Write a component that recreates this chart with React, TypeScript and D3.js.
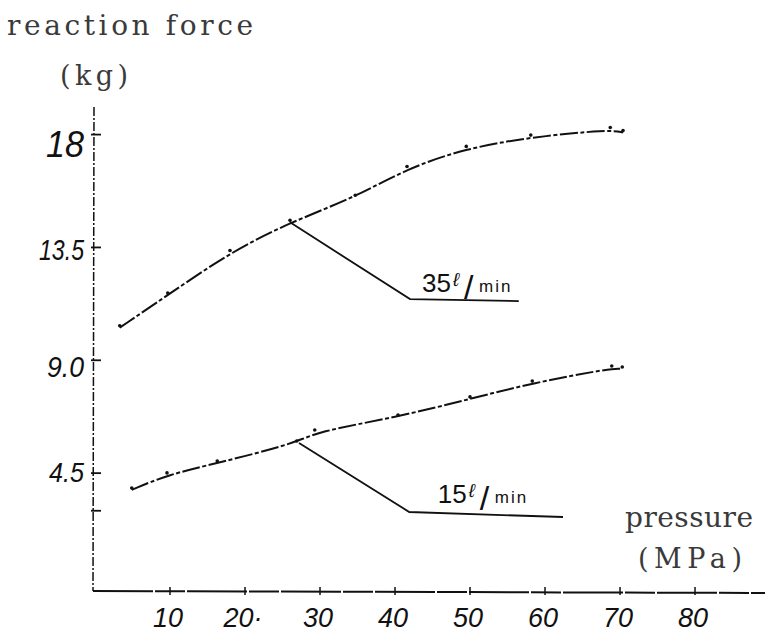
import React from "react";
import * as d3 from "d3";

// ---- data ----
const X_TICKS = [10, 20, 30, 40, 50, 60, 70, 80];
const X_TICK_LABELS = ["10", "20·", "30", "40", "50", "60", "70", "80"];
const Y_TICKS = [18, 13.5, 9, 4.5, 3];
const Y_TICK_LABELS = ["18", "13.5", "9.0", "4.5", ""];

const PRESSURE_35 = [3.3, 9.7, 18, 26, 34.7, 41.6, 49.5, 58.1, 68.7, 70.4];
const FORCE_35 = [10.3, 11.6, 13.3, 14.5, 15.5, 16.65, 17.45, 17.9, 18.2, 18.08];

const PRESSURE_15 = [4.9, 9.6, 16.3, 26.9, 29.3, 40.4, 50, 58.3, 68.9, 70.3];
const FORCE_15 = [3.83, 4.43, 4.9, 5.7, 6.14, 6.74, 7.46, 8.09, 8.69, 8.65];

const LEADER_35_X = [26, 42, 56.5];
const LEADER_35_Y = [14.5, 11.44, 11.36];
const LEADER_15_X = [27.2, 41.9, 62.4];
const LEADER_15_Y = [5.7, 2.95, 2.75];

const LABEL_35 = { flow: "35", unit: "ℓ", per: "/", time: "min", x: 43.6, y: 11.72 };
const LABEL_15 = { flow: "15", unit: "ℓ", per: "/", time: "min", x: 45.7, y: 3.31 };

const W = 765;
const H = 636;

export default function App() {
  const x = d3.scaleLinear().domain([0, 89.33]).range([95, 765]);
  const y = d3.scaleLinear().domain([-0.2, 19.1]).range([591, 107]);

  const curve = d3
    .line<[number, number]>()
    .x((d) => x(d[0]))
    .y((d) => y(d[1]))
    .curve(d3.curveBasis);
  const straight = d3
    .line<[number, number]>()
    .x((d) => x(d[0]))
    .y((d) => y(d[1]));

  const s35 = PRESSURE_35.map((p, i) => [p, FORCE_35[i]] as [number, number]);
  const s15 = PRESSURE_15.map((p, i) => [p, FORCE_15[i]] as [number, number]);
  const l35 = LEADER_35_X.map((p, i) => [p, LEADER_35_Y[i]] as [number, number]);
  const l15 = LEADER_15_X.map((p, i) => [p, LEADER_15_Y[i]] as [number, number]);

  const ink = "#111";
  const typeInk = "#3a3a3a";
  const hand = "'Liberation Sans', 'DejaVu Sans', sans-serif";
  const type = "'DejaVu Serif', 'Liberation Serif', serif";

  // visual sizing of the handwritten y labels (style only)
  const yLabelWidth: Record<string, number> = { "18": 38, "13.5": 45, "9.0": 37, "4.5": 35 };
  const yLabelSize: Record<string, number> = { "18": 36, "13.5": 30, "9.0": 30, "4.5": 27 };
  const yLabelDy: Record<string, number> = { "18": 22, "13.5": 13, "9.0": 17, "4.5": 9 };

  const renderLabel = (lab: typeof LABEL_35, key: string) => {
    const x0 = x(lab.x);
    const y0 = y(lab.y);
    return (
      <g key={key} fill={ink} fontFamily={hand}>
        <text x={x0} y={y0} fontSize={26}>
          {lab.flow}
        </text>
        <text x={x0 + 31} y={y0 - 6} fontSize={19} fontStyle="italic">
          {lab.unit}
        </text>
        <text x={x0 + 42} y={y0 + 7} fontSize={34} fontWeight={300}>
          {lab.per}
        </text>
        <text x={x0 + 57} y={y0} fontSize={17} letterSpacing={2}>
          {lab.time}
        </text>
      </g>
    );
  };

  return (
    <svg
      width={W}
      height={H}
      style={{ position: "fixed", left: 0, top: 0, background: "#fff" }}
    >
      {/* axis titles */}
      <text x={7} y={35} fontFamily={type} fontSize={28} fill={typeInk} textLength={246} lengthAdjust="spacing">
        reaction force
      </text>
      <text x={60} y={85} fontFamily={type} fontSize={27} fill={typeInk} textLength={68} lengthAdjust="spacing">
        (kg)
      </text>
      <text x={625} y={527} fontFamily={type} fontSize={28} fill={typeInk} textLength={128} lengthAdjust="spacing">
        pressure
      </text>
      <text x={638} y={568} fontFamily={type} fontSize={27} fill={typeInk} textLength={104} lengthAdjust="spacing">
        (MPa)
      </text>

      {/* y axis */}
      <line
        x1={x(0) - 1}
        x2={x(0) - 2}
        y1={y(19.1)}
        y2={y(-0.2)}
        stroke={ink}
        strokeWidth={1.5}
        strokeDasharray="9 2 2 2"
      />
      {Y_TICKS.map((t, i) => {
        const lab = Y_TICK_LABELS[i];
        return (
          <g key={"yt" + i}>
            <line x1={x(0) - 4} x2={x(0) + 6} y1={y(t)} y2={y(t)} stroke={ink} strokeWidth={1.8} />
            {lab && (
              <text
                x={84 - yLabelWidth[lab]}
                y={y(t) + yLabelDy[lab]}
                fontFamily={hand}
                fontStyle="italic"
                fontSize={yLabelSize[lab]}
                textLength={yLabelWidth[lab]}
                lengthAdjust="spacingAndGlyphs"
                fill={ink}
              >
                {lab}
              </text>
            )}
          </g>
        );
      })}

      {/* x axis */}
      <line
        x1={x(0) - 2}
        x2={x(89.33)}
        y1={y(-0.2)}
        y2={y(-0.2) + 2}
        stroke={ink}
        strokeWidth={2}
        strokeDasharray="60 2 30 2"
      />
      {X_TICKS.map((t, i) => (
        <g key={"xt" + i}>
          <line x1={x(t)} x2={x(t)} y1={y(-0.2) - 4} y2={y(-0.2) + 4} stroke={ink} strokeWidth={1.5} />
          <text
            x={x(t) - 2}
            y={y(-0.2) + 36}
            textAnchor="middle"
            fontFamily={hand}
            fontStyle="italic"
            fontSize={27}
            fill={ink}
          >
            {X_TICK_LABELS[i]}
          </text>
        </g>
      ))}

      {/* curves */}
      <path d={curve(s35) || ""} fill="none" stroke={ink} strokeWidth={2} strokeDasharray="18 2.5 4 2.5" />
      <path d={curve(s15) || ""} fill="none" stroke={ink} strokeWidth={2} strokeDasharray="18 2.5 4 2.5" />
      {s35.concat(s15).map((d, i) => (
        <circle key={"pt" + i} cx={x(d[0])} cy={y(d[1]) - 2} r={1.8} fill={ink} />
      ))}

      {/* leaders */}
      <path d={straight(l35) || ""} fill="none" stroke={ink} strokeWidth={1.8} />
      <path d={straight(l15) || ""} fill="none" stroke={ink} strokeWidth={1.8} />
      {renderLabel(LABEL_35, "lab35")}
      {renderLabel(LABEL_15, "lab15")}
    </svg>
  );
}
